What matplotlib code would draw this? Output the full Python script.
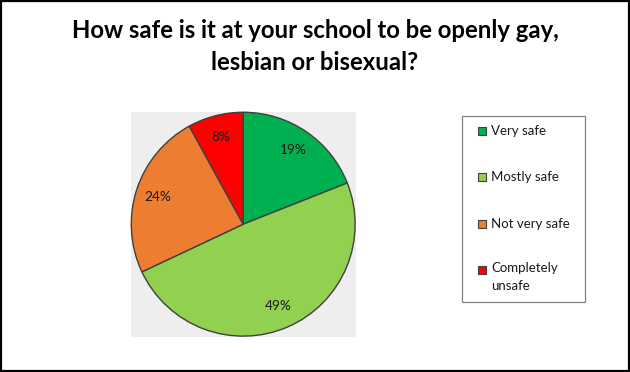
import matplotlib
matplotlib.use("Agg")
import matplotlib.pyplot as plt
from matplotlib.patches import Rectangle

categories = ["Very safe", "Mostly safe", "Not very safe", "Completely\nunsafe"]
values = [19, 49, 24, 8]
colors = ["#00B050", "#92D050", "#ED7D31", "#FF0000"]
title = "How safe is it at your school to be openly gay,\nlesbian or bisexual?"

plt.rcParams['font.family'] = ['Lato', 'DejaVu Sans']

W, H = 630, 372
fig = plt.figure(figsize=(W / 100, H / 100), dpi=100)

def fx(x):
    return x / W

def fy(y):
    return 1 - y / H

# outer border
fig.patches.append(Rectangle((0.75 / W, 0.75 / H), 1 - 1.75 / W, 1 - 1.75 / H, transform=fig.transFigure,
                             fill=False, edgecolor="black", linewidth=1.6))

fig.text(0.5, fy(46.5), title, ha="center", va="center", fontsize=17.2, fontweight="bold",
         linespacing=1.45)

ax = fig.add_axes([fx(130.7), fy(336.7), (355.7 - 130.7) / W, (336.7 - 111.7) / H])
wedges, texts, autotexts = ax.pie(values, colors=colors, startangle=90, counterclock=False,
                                  autopct=lambda p: f"{p:.0f}%", pctdistance=0.8,
                                  wedgeprops=dict(edgecolor="#404040", linewidth=1.0),
                                  textprops=dict(fontsize=9.8, color="#1a1a1a"))
ax.set_frame_on(True)
ax.patch.set_visible(True)
ax.set_facecolor("#EEEEEE")
ax.set_xlim(-1.005, 1.005)
ax.set_ylim(-1.005, 1.005)
for s in ax.spines.values():
    s.set_visible(False)
ax.set_xticks([])
ax.set_yticks([])

# legend box
fig.patches.append(Rectangle((fx(461.7), fy(301.7)), (585 - 461.7) / W, (301.7 - 115.7) / H,
                             transform=fig.transFigure, fill=False, edgecolor="#808080", linewidth=0.9))
ys = [131, 177.3, 224, 270]
for cat, col, y in zip(categories, colors, ys):
    fig.patches.append(Rectangle((fx(478), fy(y + 4)), 8 / W, 8 / H, transform=fig.transFigure,
                                 facecolor=col, edgecolor="#404040", linewidth=0.8))
    if "\n" in cat:
        fig.text(fx(491), fy(y - 8), cat, ha="left", va="top", fontsize=9.5, color="#1a1a1a",
                 linespacing=1.65)
    else:
        fig.text(fx(491), fy(y), cat, ha="left", va="center", fontsize=9.5, color="#1a1a1a")

fig.savefig("out.png", dpi=100)
